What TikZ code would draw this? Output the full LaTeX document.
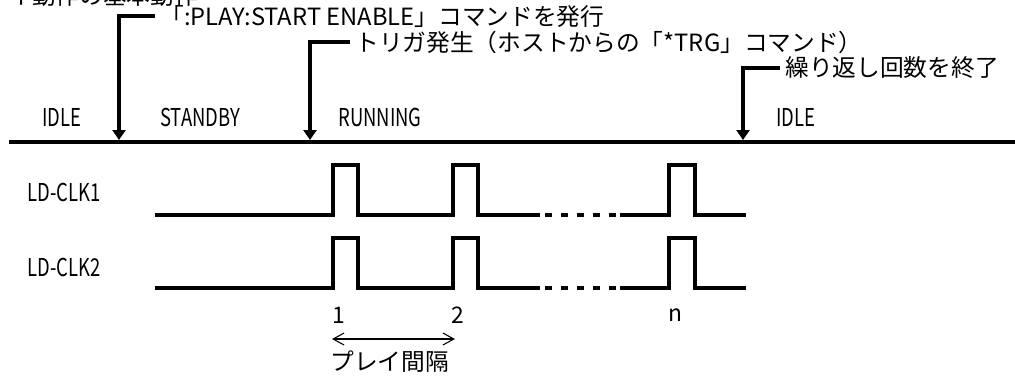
\documentclass[tikz,border=0pt]{standalone}
\usepackage{fontspec}
\setmainfont{Noto Sans CJK JP}
\newfontfamily\narrowfont[FakeStretch=0.75]{Noto Sans CJK JP}
\usetikzlibrary{arrows.meta}

\tikzset{
  lbl/.style={anchor=west, inner sep=0pt, font=\narrowfont\fontsize{14pt}{16pt}\selectfont},
  note/.style={anchor=west, inner sep=0.1cm, font=\fontsize{13.5pt}{15pt}\selectfont},
  num/.style={inner sep=0pt, font=\fontsize{13pt}{15pt}\selectfont},
  sig/.style={line width=2.3pt, line join=miter},
  trig/.style={line width=2.5pt, line join=miter, -{Triangle[width=0.26cm,length=0.2cm]}},
}

\begin{document}
\begin{tikzpicture}[x=0.02cm, y=-0.02cm]
    \useasboundingbox (0,0) rectangle (1015,376);

    \node[note, inner sep=0pt] (title) at (8,-4) {イ動作の基本動作};

    % states
    \coordinate (axisl) at (9,142);
    \coordinate (axisr) at (1015,142);
    \draw[line width=2.8pt] (axisl) -- (axisr);
    \node[lbl] (idle1) at (42,117) {IDLE};
    \node[lbl] (standby) at (160,117) {STANDBY};
    \node[lbl] (running) at (338,117) {RUNNING};
    \node[lbl] (idle2) at (776,117) {IDLE};

    % events
    \coordinate (t1) at (119,140);
    \coordinate (t2) at (310,140);
    \coordinate (t3) at (743,140);
    \node[note] (enable) at (155,16) {「:PLAY:START ENABLE」コマンドを発行};
    \node[note] (trg) at (350,42) {トリガ発生（ホストからの「*TRG」コマンド）};
    \node[note] (endrep) at (780,68) {繰り返し回数を終了};
    \draw[trig] (enable.west) -| (t1);
    \draw[trig] (trg.west) -| (t2);
    \draw[trig] (endrep.west) -| (t3);

    % clocks
    \node[lbl] (clk1) at (27,192) {LD-CLK1};
    \node[lbl] (clk2) at (27,267) {LD-CLK2};
    \foreach \lo in {215, 288} {
      \draw[sig] (155,\lo) -- (333,\lo) -- (333,\lo-50) -- (358,\lo-50) -- (358,\lo)
                 -- (453,\lo) -- (453,\lo-50) -- (478,\lo-50) -- (478,\lo) -- (540,\lo);
      \draw[sig, dash pattern=on 0.14cm off 0.18cm] (545,\lo) -- (620,\lo);
      \draw[sig] (620,\lo) -- (669,\lo) -- (669,\lo-50) -- (695,\lo-50) -- (695,\lo) -- (746,\lo);
    }

    \node[num] (p1) at (339,315) {1};
    \node[num] (p2) at (458,315) {2};
    \node[num] (pn) at (675,315) {n};
    \coordinate (ia) at (332,339);
    \coordinate (ib) at (455,339);
    \draw[line width=0.6pt, {Straight Barb[length=0.22cm,width=0.24cm]}-{Straight Barb[length=0.22cm,width=0.24cm]}] (ia) -- (ib);
    \node[note, inner sep=0pt] (interval) at (330,362) {プレイ間隔};
\end{tikzpicture}
\end{document}
